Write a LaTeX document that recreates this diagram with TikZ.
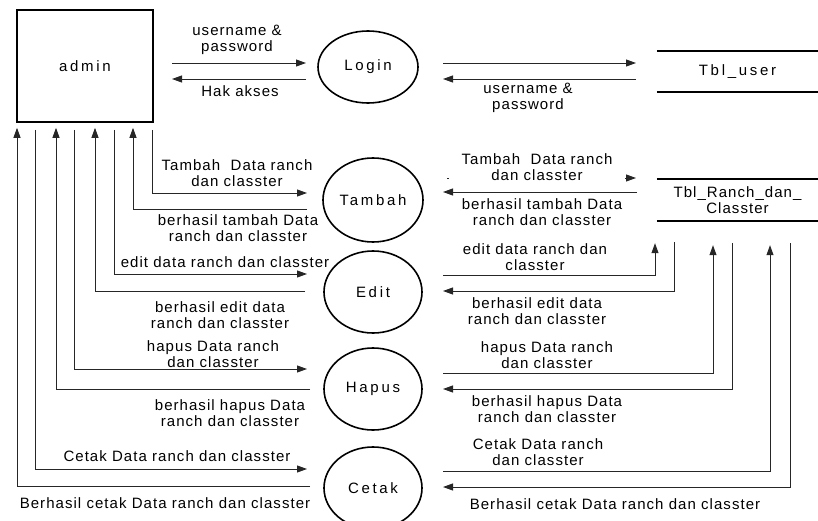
\documentclass[tikz,border=0pt]{standalone}
\usepackage{fontspec}
\usetikzlibrary{arrows.meta,shapes.geometric}
\newfontfamily\flowfont[LetterSpace=7]{Liberation Sans}
\newfontfamily\namefont[LetterSpace=18]{Liberation Sans}

\begin{document}
\begin{tikzpicture}[x=1pt,y=-1pt,
  lbl/.style={font={\flowfont\fontsize{15}{16.5}\selectfont}, align=center, inner sep=0pt},
  flow/.style={draw=black!85, line width=0.9pt},
  arr/.style={flow, -{Triangle[length=10pt,width=7pt]}},
  entity/.style={rectangle, draw, line width=1.6pt, minimum width=136pt, minimum height=112pt,
                 font={\namefont\fontsize{15}{16.5}\selectfont}},
  proc/.style={ellipse, draw, line width=1.6pt, inner sep=0pt,
               font={\namefont\fontsize{15}{16.5}\selectfont}},
  store/.style={rectangle, inner sep=0pt, minimum width=161pt, align=center},
  storeline/.style={line width=1.6pt}
]
\useasboundingbox (0,0) rectangle (818,521);

% external entity, processes and data stores
\node[entity] (admin) at (85,66) {admin};
\node[proc, minimum width=100pt, minimum height=72pt] (login) at (368,67) {Login};
\node[proc, minimum width=100pt, minimum height=84pt] (tambah) at (373,200) {Tambah};
\node[proc, minimum width=98pt, minimum height=82pt] (edit) at (373,292) {Edit};
\node[proc, minimum width=98pt, minimum height=82pt] (hapus) at (373,389) {Hapus};
\node[proc, minimum width=98pt, minimum height=82pt] (cetak) at (373,488) {Cetak};

\node[store, minimum height=41pt, font={\namefont\fontsize{15}{16.5}\selectfont}] (tbluser) at (737.5,71.5) {Tbl\_user};
\draw[storeline] (tbluser.north west) -- (tbluser.north east);
\draw[storeline] (tbluser.south west) -- (tbluser.south east);

\node[store, minimum height=42pt, font={\flowfont\fontsize{15}{16.5}\selectfont}] (tblranch) at (737.5,200) {Tbl\_Ranch\_dan\_\\Classter};
\draw[storeline] (tblranch.north west) -- (tblranch.north east);
\draw[storeline] (tblranch.south west) -- (tblranch.south east);

% login flows
\draw[arr] (172,63) -- (306,63);
\node[lbl] (l1) at (237,40) {username \&\\password};
\draw[arr] (306,79) -- (172,79);
\node[lbl] (l2) at (240,91) {Hak akses};
\draw[arr] (443,63) -- (636,63);
\draw[arr] (636,79) -- (443,79);
\node[lbl] (l3) at (528,98) {username \&\\password};

% admin <-> processes
\draw[arr, shorten <=7pt] (admin.south -| 152,0) |- (307,193);
\node[lbl] (l4) at (237,173) {Tambah\ \ Data ranch\\dan classter};
\draw[arr, shorten >=5pt] (307,209) -| (admin.south -| 133,0);
\node[lbl] (l5) at (238,228) {berhasil tambah Data\\ranch dan classter};

\draw[arr, shorten <=7pt] (admin.south -| 114,0) |- (307,274);
\node[lbl] (l6) at (225,262) {edit data ranch dan classter};
\draw[arr, shorten >=5pt] (305,291) -| (admin.south -| 95,0);
\node[lbl] (l7) at (220,315) {berhasil edit data\\ranch dan classter};

\draw[arr, shorten <=7pt] (admin.south -| 74,0) |- (307,369);
\node[lbl] (l8) at (213,354) {hapus Data ranch\\dan classter};
\draw[arr, shorten >=5pt] (310,389) -| (admin.south -| 56,0);
\node[lbl] (l9) at (230,413) {berhasil hapus Data\\ranch dan classter};

\draw[arr, shorten <=7pt] (admin.south -| 35,0) |- (307,469);
\node[lbl] (l10) at (177,456) {Cetak Data ranch dan classter};
\draw[arr, shorten >=5pt] (310,486) -| (admin.south -| 17,0);
\node[lbl] (l11) at (165,503) {Berhasil cetak Data ranch dan classter};

% processes <-> Tbl_Ranch_dan_Classter
\draw[arr] (447,178) -- (636,178);
\node[lbl, fill=white, minimum width=176pt, minimum height=36pt] (l12) at (537,167) {Tambah\ \ Data ranch\\dan classter};
\draw[arr] (637,192) -- (443,192);
\node[lbl] (l13) at (542,212) {berhasil tambah Data\\ranch dan classter};

\draw[arr, shorten >=22pt] (443,275) -| (tblranch.south -| 655,0);
\node[lbl] (l14) at (535,257) {edit data ranch dan\\classter};
\draw[arr, shorten <=21pt] (tblranch.south -| 674,0) |- (443,291);
\node[lbl] (l15) at (537,311) {berhasil edit data\\ranch dan classter};

\draw[arr, shorten >=24pt] (443,373) -| (tblranch.south -| 713,0);
\node[lbl] (l16) at (547,355) {hapus Data ranch\\dan classter};
\draw[arr, shorten <=22pt] (tblranch.south -| 732,0) |- (443,389);
\node[lbl] (l17) at (547,409) {berhasil hapus Data\\ranch dan classter};

\draw[arr, shorten >=24pt] (443,471) -| (tblranch.south -| 770,0);
\node[lbl] (l18) at (538,452) {Cetak Data ranch\\dan classter};
\draw[arr, shorten <=22pt] (tblranch.south -| 790,0) |- (443,487);
\node[lbl] (l19) at (615,504) {Berhasil cetak Data ranch dan classter};
\end{tikzpicture}
\end{document}
